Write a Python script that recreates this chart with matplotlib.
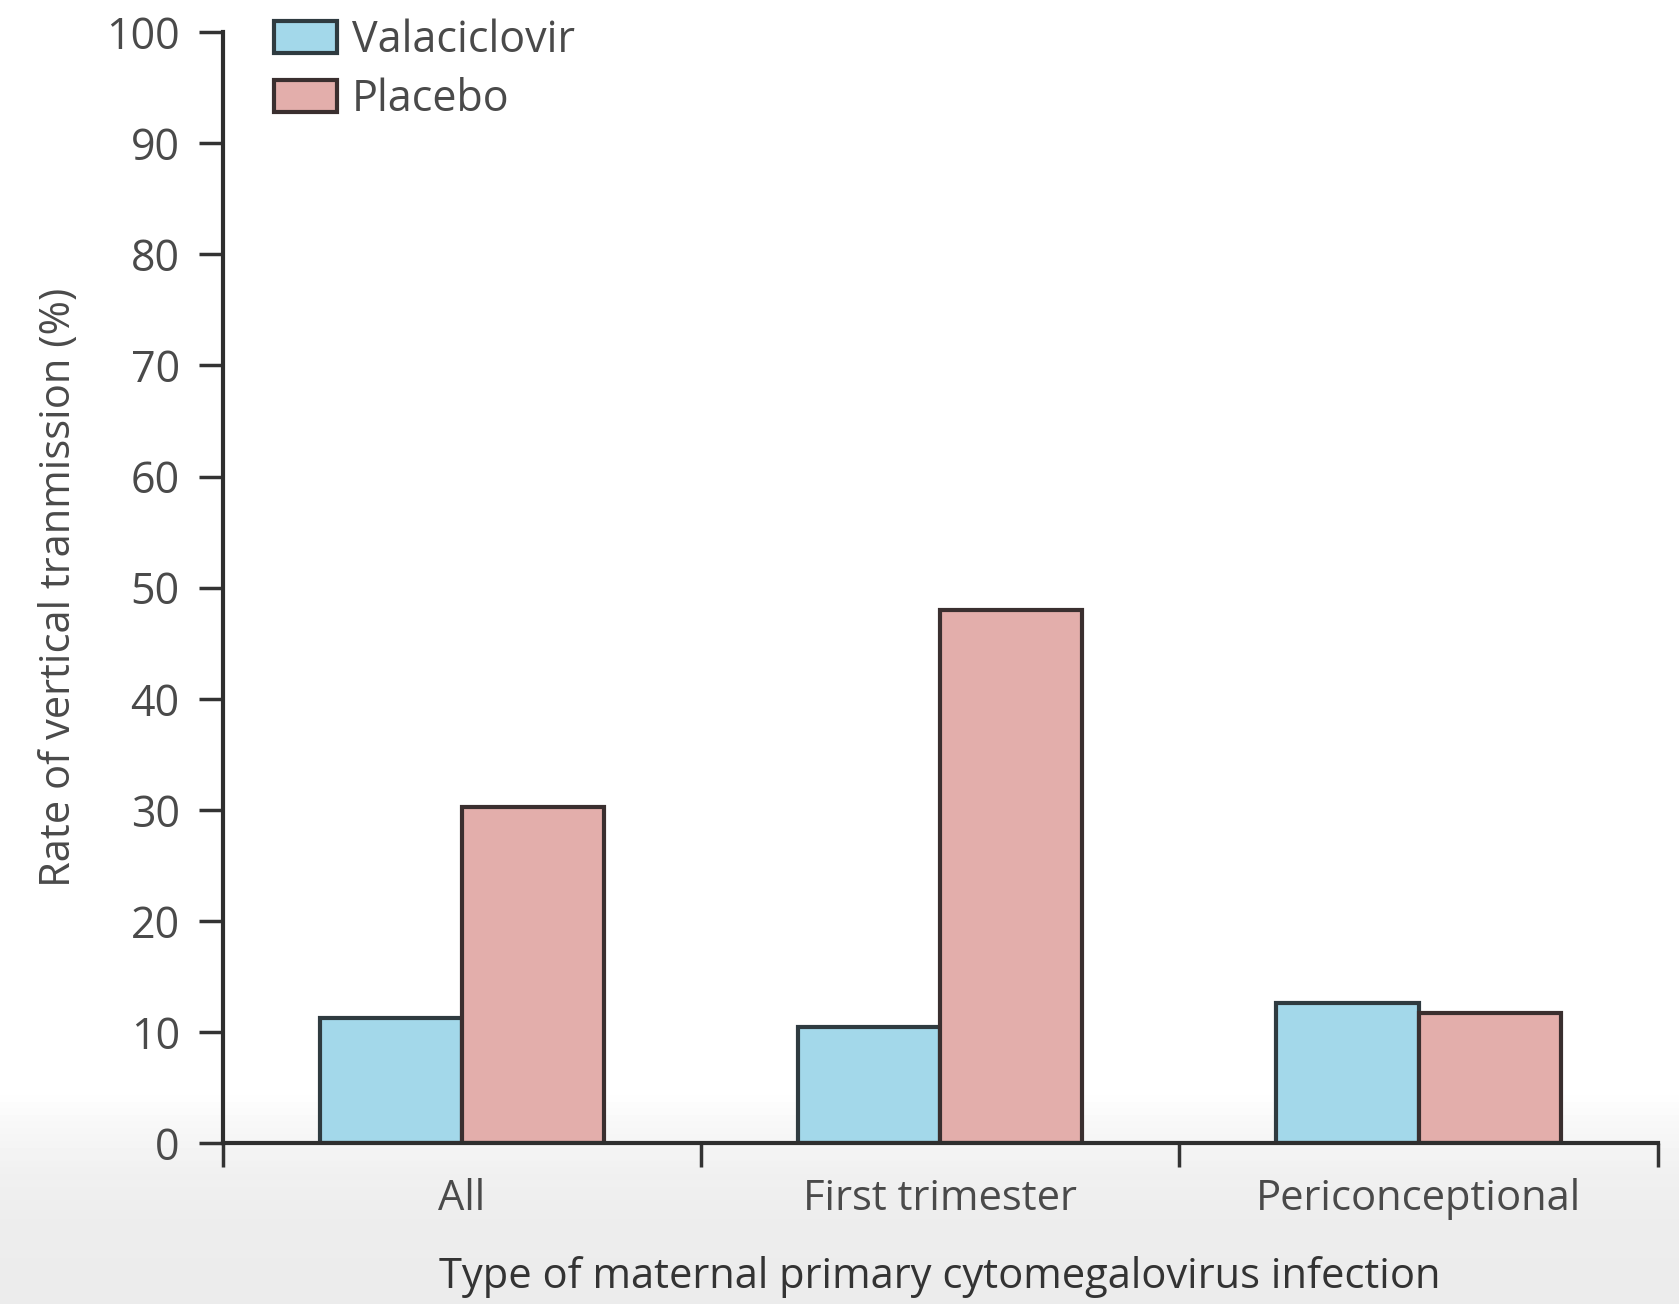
import matplotlib.pyplot as plt
import numpy as np

categories = ['All', 'First trimester', 'Periconceptional']
valaciclovir = [11.3, 10.5, 12.6]
placebo = [30.3, 48.0, 11.7]
y_ticks = [0, 10, 20, 30, 40, 50, 60, 70, 80, 90, 100]

plt.rcParams['font.family'] = ['Open Sans', 'DejaVu Sans']

fig = plt.figure(figsize=(16.79, 13.04), dpi=100)

# light grey band at the bottom of the screenshot
bg = fig.add_axes([0, 0, 1, 1], zorder=-10)
grad = np.ones((200, 2))
rows = np.linspace(1, 0, 200)
grad[:, :] = np.where(rows < 0.16, 0.925 + 0.075 * np.clip((rows - 0.0) / 0.16, 0, 1) ** 3, 1.0)[:, None]
bg.imshow(grad, cmap='gray', vmin=0, vmax=1, aspect='auto', extent=[0, 1, 0, 1])
bg.axis('off')

ax = fig.add_axes([0.1327, 0.1232, 0.8546, 0.8522])
ax.patch.set_alpha(0)

w = 0.297
x = np.arange(len(categories)) + 0.5
ax.bar(x - w / 2, valaciclovir, w, color='#a3d8ea', edgecolor='#2f3b40', linewidth=3, label='Valaciclovir')
ax.bar(x + w / 2, placebo, w, color='#e3aeab', edgecolor='#3a2f2f', linewidth=3, label='Placebo')

ax.set_xlim(0, 3)
ax.set_ylim(0, 100)
ax.set_xticks([0, 1, 2, 3])
ax.set_xticklabels([])
ax.set_xticks(x, minor=True)
ax.set_xticklabels(categories, minor=True)
ax.tick_params(axis='x', which='minor', length=0, pad=25, labelsize=30, labelcolor='#4a4a4a')
ax.tick_params(axis='x', which='major', length=17, width=2.5, color='#333333')
ax.set_yticks(y_ticks)
ax.tick_params(axis='y', length=17, width=2.5, color='#333333', pad=14, labelsize=31, labelcolor='#4a4a4a')

for s in ['top', 'right']:
    ax.spines[s].set_visible(False)
for s in ['left', 'bottom']:
    ax.spines[s].set_linewidth(3)
    ax.spines[s].set_color('#2e2e2e')

ax.set_ylabel('Rate of vertical tranmission (%)', fontsize=30, color='#4a4a4a', labelpad=19)
ax.set_xlabel('Type of maternal primary cytomegalovirus infection', fontsize=30, color='#333333', labelpad=26)

leg = ax.legend(loc='upper left', bbox_to_anchor=(0.009, 1.047), frameon=False, fontsize=31,
                handlelength=1.45, handleheight=0.75, handletextpad=0.35, labelspacing=0.33,
                labelcolor='#4a4a4a')

fig.savefig('out.png', dpi=100)
